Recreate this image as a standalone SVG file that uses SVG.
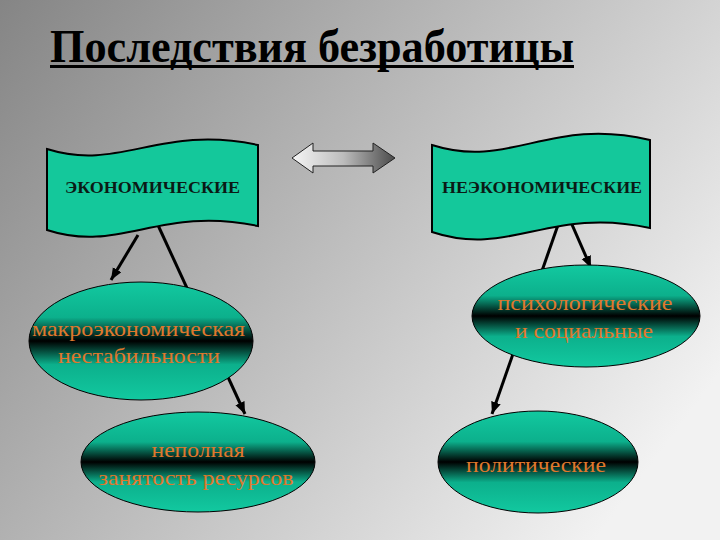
<svg xmlns="http://www.w3.org/2000/svg" width="720" height="540" viewBox="0 0 720 540">
<defs>
<linearGradient id="bg" gradientUnits="userSpaceOnUse" x1="0" y1="0" x2="640" y2="480">
<stop offset="0" stop-color="#858585"/>
<stop offset="1" stop-color="#f2f2f2"/>
</linearGradient>
<linearGradient id="ell" x1="0" y1="0" x2="0" y2="1">
<stop offset="0" stop-color="#12c9a0"/>
<stop offset="0.3" stop-color="#0cb08c"/>
<stop offset="0.5" stop-color="#000000"/>
<stop offset="0.7" stop-color="#0cb08c"/>
<stop offset="1" stop-color="#12c9a0"/>
</linearGradient>
<linearGradient id="dbl" x1="0" y1="0" x2="1" y2="0">
<stop offset="0" stop-color="#f6f6f6"/>
<stop offset="0.5" stop-color="#bcbcbc"/>
<stop offset="1" stop-color="#4a4a4a"/>
</linearGradient>
<marker id="ah" markerUnits="userSpaceOnUse" markerWidth="14" markerHeight="12" refX="12" refY="5" orient="auto">
<path d="M0,0 L12,5 L0,10 z" fill="#000"/>
</marker>
<style>
.flag{fill:#14c89b;stroke:#000;stroke-width:2}
.ftxt{font-weight:bold;font-size:17px;fill:#0b1a15;text-anchor:middle}
.ell{fill:url(#ell);stroke:#000;stroke-width:1}
.etxt{font-size:22px;fill:#e0782c;text-anchor:middle}
.con{stroke:#000;stroke-width:3;fill:none;marker-end:url(#ah)}
</style>
</defs>
<rect width="720" height="540" fill="url(#bg)"/>
<g id="title" font-family="Liberation Serif, Times New Roman, serif">
<text x="50" y="62" font-weight="bold" font-size="46" fill="#000" textLength="524" lengthAdjust="spacingAndGlyphs">Последствия безработицы</text>
<rect x="50" y="65" width="524" height="3" fill="#000"/>
</g>
<g id="connectors">
<line class="con" x1="138" y1="235" x2="111" y2="280"/>
<line class="con" x1="157" y1="223" x2="245" y2="414"/>
<line class="con" x1="558" y1="225" x2="492" y2="414"/>
<line class="con" x1="570" y1="220" x2="591" y2="268"/>
</g>
<g id="double-arrow">
<polygon points="292,158 313,143 313,151 373,151 373,143 395,158 373,173 373,166 313,166 313,173" fill="url(#dbl)" stroke="#222" stroke-width="1"/>
</g>
<g id="economic" font-family="Liberation Serif, Times New Roman, serif">
<path class="flag" d="M47,149 C120,172 160,124 258,145 L258,226 C160,205 120,254 47,230 Z"/>
<text class="ftxt" x="152.5" y="193" textLength="175" lengthAdjust="spacingAndGlyphs">ЭКОНОМИЧЕСКИЕ</text>
</g>
<g id="noneconomic" font-family="Liberation Serif, Times New Roman, serif">
<path class="flag" d="M432,145 C510,170 550,116 650,140 L650,228 C550,206 510,258 432,232 Z"/>
<text class="ftxt" x="542" y="193" textLength="200" lengthAdjust="spacingAndGlyphs">НЕЭКОНОМИЧЕСКИЕ</text>
</g>
<g id="macro" font-family="Liberation Serif, Times New Roman, serif">
<ellipse class="ell" cx="141" cy="341" rx="112" ry="59"/>
<text class="etxt" x="138.5" y="336" textLength="213" lengthAdjust="spacingAndGlyphs">макроэкономическая</text>
<text class="etxt" x="139" y="363" textLength="162" lengthAdjust="spacingAndGlyphs">нестабильности</text>
</g>
<g id="underemployment" font-family="Liberation Serif, Times New Roman, serif">
<ellipse class="ell" cx="198" cy="462" rx="117" ry="50"/>
<text class="etxt" x="198" y="457" textLength="93" lengthAdjust="spacingAndGlyphs">неполная</text>
<text class="etxt" x="196" y="485" textLength="195" lengthAdjust="spacingAndGlyphs">занятость ресурсов</text>
</g>
<g id="psycho" font-family="Liberation Serif, Times New Roman, serif">
<ellipse class="ell" cx="586" cy="316" rx="114" ry="51"/>
<text class="etxt" x="585" y="310" textLength="175" lengthAdjust="spacingAndGlyphs">психологические</text>
<text class="etxt" x="584" y="338" textLength="138" lengthAdjust="spacingAndGlyphs">и социальные</text>
</g>
<g id="political" font-family="Liberation Serif, Times New Roman, serif">
<ellipse class="ell" cx="538" cy="462" rx="100" ry="51"/>
<text class="etxt" x="536" y="472" textLength="140" lengthAdjust="spacingAndGlyphs">политические</text>
</g>
</svg>
